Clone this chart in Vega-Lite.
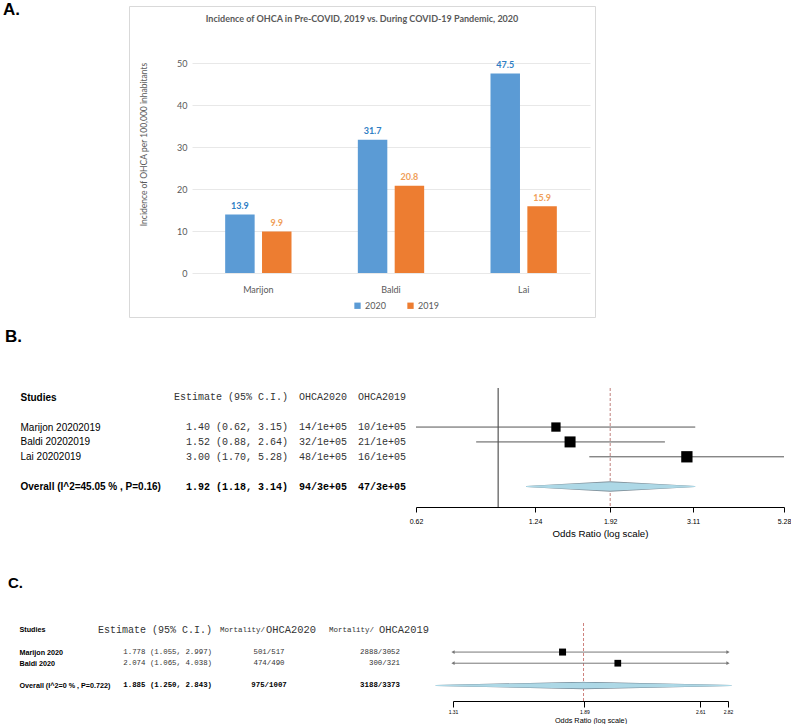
{
  "$schema": "https://vega.github.io/schema/vega-lite/v6.json",
  "background": "white",
  "padding": {"left": 0, "top": 1, "right": 0, "bottom": 0},
  "autosize": {"type": "pad"},
  "columns": 2,
  "align": "each",
  "bounds": "flush",
  "spacing": {"row": 0, "column": 106},
  "datasets": {
    "incidence": [
      {"study": "Marijon", "year": "2020", "value": 13.9},
      {"study": "Marijon", "year": "2019", "value": 9.9},
      {"study": "Baldi", "year": "2020", "value": 31.7},
      {"study": "Baldi", "year": "2019", "value": 20.8},
      {"study": "Lai", "year": "2020", "value": 47.5},
      {"study": "Lai", "year": "2019", "value": 15.9}
    ],
    "b_table": [
      {"study": "Studies", "kind": "header", "est": "Estimate (95% C.I.)", "o20": "OHCA2020", "o19": "OHCA2019"},
      {"study": "Marijon 20202019", "kind": "study", "est": "1.40 (0.62, 3.15)", "o20": "14/1e+05", "o19": "10/1e+05"},
      {"study": "Baldi 20202019", "kind": "study", "est": "1.52 (0.88, 2.64)", "o20": "32/1e+05", "o19": "21/1e+05"},
      {"study": "Lai 20202019", "kind": "study", "est": "3.00 (1.70, 5.28)", "o20": "48/1e+05", "o19": "16/1e+05"},
      {"study": "Overall (I^2=45.05 % , P=0.16)", "kind": "overall", "est": "1.92 (1.18, 3.14)", "o20": "94/3e+05", "o19": "47/3e+05"}
    ],
    "b_forest": [
      {"study": "Marijon 20202019", "kind": "study", "or": 1.40, "lo": 0.62, "hi": 3.15, "weight": 25.8},
      {"study": "Baldi 20202019", "kind": "study", "or": 1.52, "lo": 0.88, "hi": 2.64, "weight": 36.1},
      {"study": "Lai 20202019", "kind": "study", "or": 3.00, "lo": 1.70, "hi": 5.28, "weight": 38.1},
      {"study": "Overall (I^2=45.05 % , P=0.16)", "kind": "overall", "or": 1.92, "lo": 1.18, "hi": 3.14}
    ],
    "c_table": [
      {"study": "Studies", "kind": "header", "est": "Estimate (95% C.I.)", "pre": "Mortality/", "o20": "OHCA2020", "o19": "OHCA2019"},
      {"study": "Marijon 2020", "kind": "study", "est": "1.778 (1.055, 2.997)", "o20": "501/517", "o19": "2888/3052"},
      {"study": "Baldi 2020", "kind": "study", "est": "2.074 (1.065, 4.038)", "o20": "474/490", "o19": "300/321"},
      {"study": "Overall (I^2=0 % , P=0.722)", "kind": "overall", "est": "1.885 (1.250, 2.843)", "o20": "975/1007", "o19": "3188/3373"}
    ],
    "c_forest": [
      {"study": "Marijon 2020", "kind": "study", "or": 1.778, "lo": 1.055, "hi": 2.997, "weight": 52},
      {"study": "Baldi 2020", "kind": "study", "or": 2.074, "lo": 1.065, "hi": 4.038, "weight": 48},
      {"study": "Overall (I^2=0 % , P=0.722)", "kind": "overall", "or": 1.885, "lo": 1.25, "hi": 2.843}
    ]
  },
  "concat": [
    {
      "width": 23, "height": 8,
      "data": {"values": [{"t": "A."}]},
      "mark": {"type": "text", "font": "Liberation Sans", "fontSize": 17, "fontWeight": "bold", "align": "center", "baseline": "middle", "color": "#000"},
      "encoding": {"text": {"field": "t"}}
    },
    {
      "width": 466, "height": 311,
      "view": {"stroke": "#d9d9d9"},
      "title": {"text": "Incidence of OHCA in Pre-COVID, 2019 vs. During COVID-19 Pandemic, 2020", "font": "Lato", "fontSize": 9, "fontWeight": "bold", "color": "#595959", "anchor": "middle", "offset": -18},
      "data": {"name": "incidence"},
      "layer": [
        {
          "mark": {"type": "bar"},
          "encoding": {
            "x": {"field": "study", "type": "nominal", "sort": ["Marijon", "Baldi", "Lai"],
              "scale": {"range": [63, 461], "paddingInner": 0.5, "paddingOuter": 0.25},
              "axis": {"offset": -44, "domain": false, "ticks": false, "tickSize": 0, "labelPadding": 12, "labelAngle": 0, "labelFont": "Lato", "labelFontSize": 9, "labelColor": "#595959", "title": null, "grid": false}},
            "xOffset": {"field": "year", "type": "nominal", "scale": {"domain": ["2020", "2019"], "paddingInner": 0.2}},
            "y": {"field": "value", "type": "quantitative",
              "scale": {"domain": [0, 50], "range": [267, 57], "nice": false},
              "axis": {"values": [0, 5, 10, 15, 20, 25, 30, 35, 40, 45, 50], "offset": -63, "domain": false, "ticks": false, "tickSize": 0, "labelPadding": 5, "labelFont": "Lato", "labelFontSize": 9, "labelColor": "#595959", "grid": true, "gridColor": "#e8e8e8", "title": "Incidence of OHCA per 100,000 inhabitants", "titleFont": "Lato", "titleFontSize": 8.5, "titleFontWeight": "normal", "titleColor": "#595959", "titleX": -49, "titleY": 138, "titleAngle": 270, "titleAlign": "center", "titleBaseline": "middle"}},
            "color": {"field": "year", "type": "nominal", "scale": {"domain": ["2020", "2019"], "range": ["#5B9BD5", "#ED7D31"]},
              "legend": {"orient": "none", "legendX": 353, "legendY": 295, "direction": "horizontal", "title": null, "symbolType": "square", "symbolSize": 40, "labelFont": "Lato", "labelFontSize": 9, "labelColor": "#595959", "columnPadding": 20, "padding": 0, "labelOffset": 3}}
          }
        },
        {
          "mark": {"type": "text", "baseline": "bottom", "dy": -3.5, "font": "Lato", "fontSize": 9, "fontWeight": "bold"},
          "encoding": {
            "x": {"field": "study", "type": "nominal", "sort": ["Marijon", "Baldi", "Lai"]},
            "xOffset": {"field": "year", "type": "nominal"},
            "y": {"field": "value", "type": "quantitative"},
            "text": {"field": "value", "type": "quantitative", "format": ".1f"},
            "fill": {"field": "year", "type": "nominal", "scale": {"domain": ["2020", "2019"], "range": ["#2E7EC4", "#F0A05A"]}, "legend": null}
          }
        }
      ]
    },
    {
      "width": 23, "height": 71,
      "data": {"values": [{"t": "B."}]},
      "mark": {"type": "text", "font": "Liberation Sans", "fontSize": 17, "fontWeight": "bold", "align": "center", "baseline": "middle", "dx": 2, "dy": -15.5, "color": "#000"},
      "encoding": {"text": {"field": "t"}}
    },
    {
      "width": 1, "height": 71,
      "data": {"values": []},
      "mark": {"type": "point"}
    },
    {
      "width": 23, "height": 119,
      "data": {"values": []},
      "mark": {"type": "point"}
    },
    {
      "width": 655, "height": 119,
      "resolve": {"scale": {"x": "independent", "size": "independent"}},
      "layer": [
        {
          "data": {"name": "b_table"},
          "encoding": {
            "y": {"field": "study", "type": "nominal",
              "scale": {"type": "point", "domain": ["Studies", " ", "Marijon 20202019", "Baldi 20202019", "Lai 20202019", "  ", "Overall (I^2=45.05 % , P=0.16)"], "padding": 1.1034, "align": 0.3125},
              "axis": {"orient": "left", "offset": 109, "domain": false, "ticks": false, "tickSize": 0, "labelPadding": 0, "labelAlign": "left", "labelBaseline": "middle", "labelFont": "Liberation Sans", "labelFontSize": 10, "labelColor": "#000",
                "labelFontWeight": {"condition": {"test": "datum.value === 'Studies' || indexof(datum.value, 'Overall') === 0", "value": "bold"}, "value": "normal"},
                "labelLimit": 0, "labelOverlap": false, "labelBound": false, "title": null, "grid": false}}
          },
          "layer": [
            {
              "transform": [{"filter": "datum.kind !== 'overall'"}, {"fold": ["est", "o20", "o19"], "as": ["col", "txt"]}],
              "mark": {"type": "text", "align": "right", "font": "Liberation Mono", "fontSize": 10, "color": "#333"},
              "encoding": {
                "x": {"field": "col", "type": "nominal", "scale": {"type": "point", "domain": ["est", "o20", "o19"], "range": [159, 277], "padding": 0}, "axis": null},
                "text": {"field": "txt"}
              }
            },
            {
              "transform": [{"filter": "datum.kind === 'overall'"}, {"fold": ["est", "o20", "o19"], "as": ["col", "txt"]}],
              "mark": {"type": "text", "align": "right", "font": "Liberation Mono", "fontSize": 10, "fontWeight": "bold", "color": "#000"},
              "encoding": {
                "x": {"field": "col", "type": "nominal", "axis": null},
                "text": {"field": "txt"}
              }
            }
          ]
        },
        {
          "data": {"name": "b_forest"},
          "resolve": {"scale": {"size": "independent"}},
          "layer": [
            {
              "transform": [{"filter": "datum.kind === 'overall'"}],
              "mark": {"type": "rule", "color": "#333", "strokeWidth": 1},
              "encoding": {
                "x": {"datum": 1, "type": "quantitative",
                  "scale": {"type": "log", "domain": [0.62, 5.28], "range": [287, 655], "nice": false},
                  "axis": {"orient": "bottom", "values": [0.62, 1.24, 1.92, 3.11, 5.28], "format": ".2f", "domainColor": "#000", "tickColor": "#000", "tickSize": 5, "labelPadding": 5, "labelFont": "Liberation Sans", "labelFontSize": 7, "labelColor": "#000", "labelFlush": false, "labelOverlap": false, "labelBound": false, "grid": false, "title": "Odds Ratio (log scale)", "titleFont": "Liberation Sans", "titleFontSize": 9.7, "titleFontWeight": "normal", "titleColor": "#000", "titlePadding": 4}}
              }
            },
            {
              "transform": [{"filter": "datum.kind === 'overall'"}],
              "mark": {"type": "rule", "color": "#b0605a", "strokeWidth": 0.8, "strokeDash": [3, 2]},
              "encoding": {"x": {"field": "or", "type": "quantitative"}}
            },
            {
              "transform": [{"filter": "datum.kind === 'study'"}],
              "mark": {"type": "rule", "color": "#555", "strokeWidth": 1},
              "encoding": {
                "x": {"field": "lo", "type": "quantitative"},
                "x2": {"field": "hi"},
                "y": {"field": "study", "type": "nominal"}
              }
            },
            {
              "transform": [{"filter": "datum.kind === 'study'"}],
              "mark": {"type": "point", "shape": "square", "filled": true, "color": "#000", "opacity": 1},
              "encoding": {
                "x": {"field": "or", "type": "quantitative"},
                "y": {"field": "study", "type": "nominal"},
                "size": {"field": "weight", "type": "quantitative", "scale": {"domain": [0, 100], "range": [0, 335]}, "legend": null}
              }
            },
            {
              "transform": [{"filter": "datum.kind === 'overall'"}, {"fold": ["lo", "or", "hi"], "as": ["pt", "xv"]}],
              "mark": {"type": "trail", "color": "#7f8f99"},
              "encoding": {
                "x": {"field": "xv", "type": "quantitative"},
                "y": {"field": "study", "type": "nominal"},
                "size": {"field": "pt", "type": "nominal", "scale": {"type": "ordinal", "domain": ["lo", "or", "hi"], "range": [0, 10.5, 0]}, "legend": null}
              }
            },
            {
              "transform": [{"filter": "datum.kind === 'overall'"}, {"fold": ["lo", "or", "hi"], "as": ["pt", "xv"]}],
              "mark": {"type": "trail", "color": "#ADD8E6"},
              "encoding": {
                "x": {"field": "xv", "type": "quantitative"},
                "y": {"field": "study", "type": "nominal"},
                "size": {"field": "pt", "type": "nominal", "scale": {"type": "ordinal", "domain": ["lo", "or", "hi"], "range": [0, 8.5, 0]}, "legend": null}
              }
            }
          ]
        }
      ]
    },
    {
      "width": 23, "height": 116,
      "data": {"values": [{"t": "C."}]},
      "mark": {"type": "text", "font": "Liberation Sans", "fontSize": 15, "fontWeight": "bold", "align": "center", "baseline": "middle", "dx": 4, "dy": 18, "color": "#000"},
      "encoding": {"text": {"field": "t"}}
    },
    {
      "width": 1, "height": 116,
      "data": {"values": []},
      "mark": {"type": "point"}
    },
    {
      "width": 23, "height": 78,
      "data": {"values": []},
      "mark": {"type": "point"}
    },
    {
      "width": 599, "height": 78,
      "resolve": {"scale": {"x": "independent", "size": "independent"}},
      "layer": [
        {
          "data": {"name": "c_table"},
          "encoding": {
            "y": {"field": "study", "type": "nominal",
              "scale": {"type": "point", "domain": ["Studies", " ", "Marijon 2020", "Baldi 2020", "  ", "Overall (I^2=0 % , P=0.722)"], "padding": 1.0455, "align": 0.3043},
              "axis": {"orient": "left", "offset": 110, "domain": false, "ticks": false, "tickSize": 0, "labelPadding": 0, "labelAlign": "left", "labelBaseline": "middle", "labelFont": "Liberation Sans", "labelFontSize": 7.2, "labelFontWeight": "bold", "labelColor": "#000", "labelLimit": 0, "labelOverlap": false, "labelBound": false, "title": null, "grid": false}}
          },
          "layer": [
            {
              "transform": [{"filter": "datum.kind === 'study'"}, {"fold": ["est", "o19"], "as": ["col", "txt"]}],
              "mark": {"type": "text", "align": "right", "font": "Liberation Mono", "fontSize": 7.4, "color": "#333"},
              "encoding": {
                "x": {"field": "col", "type": "nominal", "scale": {"type": "point", "domain": ["est", "o20", "o19"], "range": [83, 271], "padding": 0}, "axis": null},
                "text": {"field": "txt"}
              }
            },
            {
              "transform": [{"filter": "datum.kind === 'overall'"}, {"fold": ["est", "o19"], "as": ["col", "txt"]}],
              "mark": {"type": "text", "align": "right", "font": "Liberation Mono", "fontSize": 7.4, "fontWeight": "bold", "color": "#000"},
              "encoding": {"x": {"field": "col", "type": "nominal", "axis": null}, "text": {"field": "txt"}}
            },
            {
              "transform": [{"filter": "datum.kind === 'study'"}, {"fold": ["o20"], "as": ["col", "txt"]}],
              "mark": {"type": "text", "align": "center", "dx": -37, "font": "Liberation Mono", "fontSize": 7.4, "color": "#333"},
              "encoding": {"x": {"field": "col", "type": "nominal", "axis": null}, "text": {"field": "txt"}}
            },
            {
              "transform": [{"filter": "datum.kind === 'overall'"}, {"fold": ["o20"], "as": ["col", "txt"]}],
              "mark": {"type": "text", "align": "center", "dx": -37, "font": "Liberation Mono", "fontSize": 7.4, "fontWeight": "bold", "color": "#000"},
              "encoding": {"x": {"field": "col", "type": "nominal", "axis": null}, "text": {"field": "txt"}}
            },
            {
              "transform": [{"filter": "datum.kind === 'header'"}],
              "mark": {"type": "text", "align": "right", "font": "Liberation Mono", "fontSize": 10, "color": "#333"},
              "encoding": {"x": {"datum": "est", "type": "nominal", "axis": null}, "text": {"field": "est"}}
            },
            {
              "transform": [{"filter": "datum.kind === 'header'"}],
              "mark": {"type": "text", "align": "right", "dx": -41, "font": "Liberation Mono", "fontSize": 7.5, "color": "#333"},
              "encoding": {"x": {"datum": "o20", "type": "nominal", "axis": null}, "text": {"field": "pre"}}
            },
            {
              "transform": [{"filter": "datum.kind === 'header'"}],
              "mark": {"type": "text", "align": "left", "dx": -40, "font": "Liberation Mono", "fontSize": 10.4, "color": "#333"},
              "encoding": {"x": {"datum": "o20", "type": "nominal", "axis": null}, "text": {"field": "o20"}}
            },
            {
              "transform": [{"filter": "datum.kind === 'header'"}],
              "mark": {"type": "text", "align": "right", "dx": -26, "font": "Liberation Mono", "fontSize": 7.5, "color": "#333"},
              "encoding": {"x": {"datum": "o19", "type": "nominal", "axis": null}, "text": {"field": "pre"}}
            },
            {
              "transform": [{"filter": "datum.kind === 'header'"}],
              "mark": {"type": "text", "align": "left", "dx": -21, "font": "Liberation Mono", "fontSize": 10.4, "color": "#333"},
              "encoding": {"x": {"datum": "o19", "type": "nominal", "axis": null}, "text": {"field": "o19"}}
            }
          ]
        },
        {
          "data": {"name": "c_forest"},
          "resolve": {"scale": {"size": "independent"}},
          "layer": [
            {
              "transform": [{"filter": "datum.kind === 'overall'"}],
              "mark": {"type": "rule", "color": "#c0605a", "strokeWidth": 0.8, "strokeDash": [3, 2]},
              "encoding": {
                "x": {"field": "or", "type": "quantitative",
                  "scale": {"type": "log", "domain": [1.31, 2.82], "range": [324, 599], "nice": false, "clamp": true},
                  "axis": {"orient": "bottom", "values": [1.31, 1.89, 2.61, 2.82], "format": ".2f", "domainColor": "#000", "tickColor": "#000", "tickSize": 6, "labelPadding": 2, "labelFont": "Liberation Sans", "labelFontSize": 5, "labelColor": "#000", "labelFlush": false, "labelOverlap": false, "labelBound": false, "grid": false, "title": "Odds Ratio (log scale)", "titleFont": "Liberation Sans", "titleFontSize": 7.3, "titleFontWeight": "normal", "titleColor": "#000", "titlePadding": 2}}
              }
            },
            {
              "transform": [{"filter": "datum.kind === 'study'"}],
              "mark": {"type": "rule", "color": "#777", "strokeWidth": 1},
              "encoding": {
                "x": {"field": "lo", "type": "quantitative"},
                "x2": {"field": "hi"},
                "y": {"field": "study", "type": "nominal"}
              }
            },
            {
              "transform": [{"filter": "datum.kind === 'study'"}],
              "mark": {"type": "point", "shape": "triangle-left", "filled": true, "color": "#777", "size": 14, "opacity": 1},
              "encoding": {
                "x": {"field": "lo", "type": "quantitative"},
                "y": {"field": "study", "type": "nominal"}
              }
            },
            {
              "transform": [{"filter": "datum.kind === 'study'"}],
              "mark": {"type": "point", "shape": "triangle-right", "filled": true, "color": "#777", "size": 14, "opacity": 1},
              "encoding": {
                "x": {"field": "hi", "type": "quantitative"},
                "y": {"field": "study", "type": "nominal"}
              }
            },
            {
              "transform": [{"filter": "datum.kind === 'study'"}],
              "mark": {"type": "point", "shape": "square", "filled": true, "color": "#000", "opacity": 1},
              "encoding": {
                "x": {"field": "or", "type": "quantitative"},
                "y": {"field": "study", "type": "nominal"},
                "size": {"field": "weight", "type": "quantitative", "scale": {"domain": [0, 100], "range": [0, 94]}, "legend": null}
              }
            }
          ]
        },
        {
          "data": {"name": "c_forest"},
          "resolve": {"scale": {"size": "independent"}},
          "transform": [{"filter": "datum.kind === 'overall'"}, {"fold": ["lo", "or", "hi"], "as": ["pt", "xv"]}],
          "layer": [
            {
              "mark": {"type": "trail", "color": "#6f8290"},
              "encoding": {
                "x": {"field": "xv", "type": "quantitative", "scale": {"type": "log", "domain": [1.31, 2.82], "range": [324, 599], "nice": false}, "axis": null},
                "y": {"field": "study", "type": "nominal"},
                "size": {"field": "pt", "type": "nominal", "scale": {"type": "ordinal", "domain": ["lo", "or", "hi"], "range": [0, 7.5, 0]}, "legend": null}
              }
            },
            {
              "mark": {"type": "trail", "color": "#ADD8E6"},
              "encoding": {
                "x": {"field": "xv", "type": "quantitative"},
                "y": {"field": "study", "type": "nominal"},
                "size": {"field": "pt", "type": "nominal", "scale": {"type": "ordinal", "domain": ["lo", "or", "hi"], "range": [0, 6, 0]}, "legend": null}
              }
            }
          ]
        }
      ]
    }
  ],
  "config": {
    "view": {"stroke": null},
    "axis": {"labelFont": "Liberation Sans", "titleFont": "Liberation Sans"},
    "text": {"font": "Liberation Sans"}
  }
}
